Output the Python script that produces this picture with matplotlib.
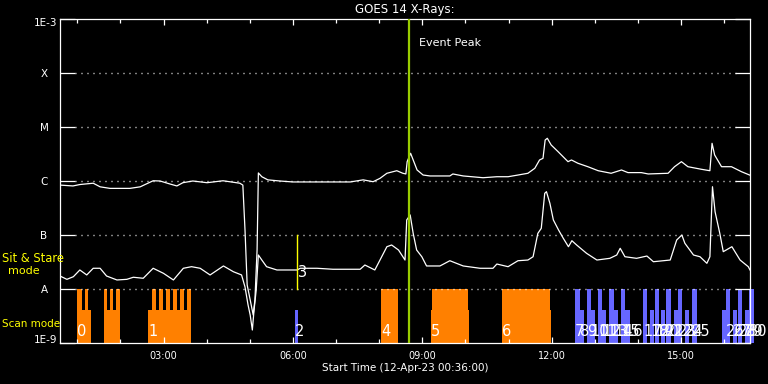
import numpy as np
import matplotlib
matplotlib.use("Agg")
import matplotlib.pyplot as plt
from matplotlib.ticker import NullLocator, FixedLocator

# GOES 14 X-ray flux, hours since 00:00 on 12-Apr-23
time_long = [0.60, 0.90, 1.06, 1.37, 1.53, 1.76, 2.22, 2.46, 2.76, 2.92, 3.15, 3.31, 3.45, 3.68, 4.01,
             4.38, 4.61, 4.77, 4.84, 4.89, 4.94, 5.01, 5.08, 5.12, 5.17, 5.20, 5.28, 5.42, 5.70, 6.00,
             7.33, 7.63, 7.86, 8.02, 8.18, 8.41, 8.55, 8.62, 8.65, 8.73, 8.79, 8.88, 9.02, 9.18, 9.64,
             9.71, 9.95, 10.41, 10.73, 10.99, 11.22, 11.45, 11.61, 11.72, 11.80, 11.85, 11.90, 11.99, 12.15, 12.38,
             12.46, 12.61, 12.84, 13.08, 13.38, 13.62, 13.77, 14.08, 14.24, 14.70, 14.85, 15.01, 15.16, 15.47, 15.67,
             15.72, 15.78, 15.94, 16.17, 16.40, 16.59]
flux_long = [8.4e-7, 8.1e-7, 8.6e-7, 9.1e-7, 7.8e-7, 7.3e-7, 7.3e-7, 7.8e-7, 1.01e-6, 1.0e-6, 8.8e-7, 8.1e-7, 9.3e-7, 1.0e-6, 9.3e-7,
             1.01e-6, 9.5e-7, 9.1e-7, 8.4e-7, 1.24e-7, 1.19e-8, 6.3e-9, 3.3e-9, 6.3e-9, 5.3e-8, 1.41e-6, 1.20e-6, 1.05e-6, 1.0e-6, 9.6e-7,
             9.6e-7, 1.05e-6, 9.7e-7, 1.12e-6, 1.39e-6, 1.55e-6, 1.39e-6, 1.35e-6, 2.28e-6, 3.26e-6, 2.45e-6, 1.60e-6, 1.29e-6, 1.24e-6, 1.24e-6,
             1.35e-6, 1.24e-6, 1.15e-6, 1.20e-6, 1.20e-6, 1.29e-6, 1.39e-6, 1.72e-6, 2.45e-6, 2.63e-6, 5.74e-6, 6.18e-6, 4.64e-6, 3.49e-6, 2.28e-6,
             2.45e-6, 2.13e-6, 1.84e-6, 1.55e-6, 1.39e-6, 1.60e-6, 1.43e-6, 1.43e-6, 1.35e-6, 1.39e-6, 1.84e-6, 2.28e-6, 1.84e-6, 1.65e-6, 1.55e-6,
             4.99e-6, 3.03e-6, 1.84e-6, 1.84e-6, 1.49e-6, 1.29e-6]

time_short = [0.60, 0.76, 0.91, 1.06, 1.22, 1.37, 1.53, 1.68, 1.92, 2.15, 2.30, 2.53, 2.76, 3.00, 3.23,
              3.46, 3.65, 3.85, 4.08, 4.39, 4.62, 4.81, 4.89, 4.96, 5.01, 5.06, 5.10, 5.15, 5.20, 5.28,
              5.39, 5.63, 6.10, 6.17, 6.56, 6.93, 7.56, 7.67, 7.90, 8.02, 8.18, 8.29, 8.45, 8.60, 8.64,
              8.72, 8.79, 8.87, 8.99, 9.10, 9.41, 9.64, 9.95, 10.34, 10.64, 10.73, 10.99, 11.22, 11.45, 11.57,
              11.68, 11.76, 11.84, 11.88, 11.96, 12.04, 12.16, 12.27, 12.39, 12.47, 12.58, 12.81, 13.05, 13.35, 13.51,
              13.59, 13.70, 13.97, 14.21, 14.36, 14.75, 14.90, 15.02, 15.09, 15.29, 15.44, 15.60, 15.67, 15.73, 15.79,
              15.90, 15.98, 16.18, 16.37, 16.56, 16.60]
flux_short = [1.74e-8, 1.51e-8, 1.69e-8, 2.25e-8, 1.82e-8, 2.42e-8, 2.42e-8, 1.74e-8, 1.47e-8, 1.51e-8, 1.65e-8, 1.58e-8, 2.42e-8, 1.95e-8, 1.47e-8,
              2.42e-8, 2.59e-8, 2.42e-8, 1.82e-8, 2.67e-8, 2.09e-8, 1.82e-8, 1.09e-8, 5.1e-9, 3.3e-9, 1.74e-9, 4.1e-9, 9.6e-9, 4.26e-8, 3.44e-8,
              2.59e-8, 2.25e-8, 2.25e-8, 2.42e-8, 2.42e-8, 2.32e-8, 2.32e-8, 2.78e-8, 2.25e-8, 3.44e-8, 6.07e-8, 6.53e-8, 5.27e-8, 3.44e-8, 1.90e-7,
              2.35e-7, 1.07e-7, 5.27e-8, 3.96e-8, 2.67e-8, 2.67e-8, 3.34e-8, 2.67e-8, 2.42e-8, 2.42e-8, 2.90e-8, 2.59e-8, 3.34e-8, 3.44e-8, 3.96e-8,
              1.07e-7, 1.33e-7, 5.92e-7, 6.34e-7, 3.86e-7, 1.90e-7, 1.24e-7, 8.7e-8, 6.07e-8, 7.84e-8, 6.53e-8, 4.58e-8, 3.44e-8, 3.70e-8, 4.26e-8,
              5.67e-8, 3.96e-8, 3.70e-8, 4.08e-8, 3.20e-8, 3.44e-8, 8.08e-8, 1.0e-7, 7.02e-8, 4.26e-8, 3.96e-8, 2.99e-8, 3.96e-8, 7.84e-7, 2.70e-7,
              1.07e-7, 4.91e-8, 6.07e-8, 3.44e-8, 2.59e-8, 2.25e-8]

# observation intervals (start, end) in hours
sitstare_tall = [(0.99, 1.11), (1.17, 1.26), (1.62, 1.69), (1.75, 1.84), (1.90, 1.99),
                 (2.73, 2.83), (2.90, 2.99), (3.06, 3.15), (3.22, 3.31), (3.38, 3.48), (3.55, 3.64),
                 (8.04, 8.44), (9.23, 10.06), (10.85, 11.96)]
sitstare_short = [(0.99, 1.32), (1.62, 1.99), (2.64, 3.64), (9.20, 10.08), (10.85, 11.99)]
scan_tall = [(12.54, 12.66), (12.82, 12.91), (13.08, 13.17), (13.33, 13.45), (13.61, 13.70),
             (14.12, 14.21), (14.40, 14.49), (14.65, 14.77), (14.93, 15.02), (15.26, 15.37),
             (16.04, 16.14), (16.32, 16.41), (16.58, 16.69)]
scan_short = [(6.05, 6.11), (12.66, 12.75), (12.91, 13.01), (13.17, 13.26), (13.45, 13.54), (13.70, 13.82),
              (14.28, 14.37), (14.54, 14.63), (14.84, 14.93), (15.09, 15.19), (15.94, 16.04),
              (16.21, 16.30), (16.48, 16.58)]
obs_times = [0.99, 2.64, 6.05, 6.10, 8.04, 9.20, 10.85,
             12.54, 12.66, 12.82, 12.91, 13.08, 13.17, 13.33, 13.45, 13.61, 13.70,
             14.12, 14.28, 14.40, 14.54, 14.65, 14.84, 14.93, 15.09, 15.26,
             16.04, 16.21, 16.32, 16.48, 16.58]
marker3_flux = 2.0e-8

event_peak = 8.69
t_start, t_end = 0.6, 16.6
hour_ticks = [3, 6, 9, 12, 15]
hour_labels = ["03:00", "06:00", "09:00", "12:00", "15:00"]
flux_levels = [1e-9, 1e-8, 1e-7, 1e-6, 1e-5, 1e-4, 1e-3]
level_names = ["1E-9", "A", "B", "C", "M", "X", "1E-3"]

W, H = 768, 384
fig = plt.figure(figsize=(W / 100, H / 100), dpi=100, facecolor="black")
ax = fig.add_axes([60 / W, (H - 343) / H, 690 / W, 324 / H], facecolor="black")
ax.set_yscale("log")
ax.set_xlim(t_start, t_end)
ax.set_ylim(1e-9, 1e-3)

orange = "#ff8000"
blue = "#6666ff"
tall_top, short_top = 1e-8, 4.1e-9
for s, e in sitstare_short:
    ax.bar(s, short_top - 1e-9, width=e - s, bottom=1e-9, align="edge", color=orange, lw=0, zorder=1)
for s, e in sitstare_tall:
    ax.bar(s, tall_top - 1e-9, width=e - s, bottom=1e-9, align="edge", color=orange, lw=0, zorder=1)
for s, e in scan_short:
    ax.bar(s, short_top - 1e-9, width=e - s, bottom=1e-9, align="edge", color=blue, lw=0, zorder=1, clip_on=False)
for s, e in scan_tall:
    ax.bar(s, tall_top - 1e-9, width=e - s, bottom=1e-9, align="edge", color=blue, lw=0, zorder=1, clip_on=False)

# dotted class lines
for lev in flux_levels[1:-1]:
    ax.axhline(lev, xmin=15 / 690, xmax=676 / 690, color="white", lw=1.0,
               linestyle=(0, (0.72, 3.6)), zorder=1.5)

ax.plot(time_long, flux_long, color="white", lw=0.9, zorder=3)
ax.plot(time_short, flux_short, color="white", lw=0.9, zorder=3)

ax.plot([obs_times[3], obs_times[3]], [1e-8, 1e-7], color="yellow", lw=1.0, zorder=3)
ax.axvline(event_peak, color="#99cc00", lw=1.6, zorder=4)
ax.text(event_peak + 0.23, 0.927, "Event Peak", color="white", fontsize=8,
        va="center", ha="left", transform=ax.get_xaxis_transform())

xt = ax.get_xaxis_transform()
for i, t in enumerate(obs_times):
    if i == 3:
        ax.text(t + 0.02, marker3_flux, str(i), color="white", fontsize=10.5, va="center", ha="left", zorder=5)
    else:
        ax.text(t, 0.012, str(i), color="white", fontsize=10.5, va="bottom", ha="left",
                transform=xt, zorder=5)

# axes styling
for sp in ax.spines.values():
    sp.set_color("white")
    sp.set_linewidth(0.9)
ax.set_axisbelow(False)
ax.xaxis.set_major_locator(FixedLocator(hour_ticks))
ax.xaxis.set_minor_locator(FixedLocator(np.arange(1, 17)))
ax.set_xticklabels(hour_labels)
ax.tick_params(axis="x", which="both", direction="in", top=True, bottom=True, colors="white",
               labelsize=7, pad=5.5, width=0.9)
ax.tick_params(axis="x", which="major", length=4.5)
ax.tick_params(axis="x", which="minor", length=2.9)
ax.yaxis.set_major_locator(FixedLocator(flux_levels))
ax.yaxis.set_minor_locator(NullLocator())
ax.tick_params(axis="y", which="major", direction="in", left=True, right=True, length=10.5,
               width=0.9, colors="white", labelleft=False)

def px(x, y):
    return x / W, 1 - y / H

label_y = [340, 290, 236, 182, 128, 74, 23.3]
for name, y in zip(level_names, label_y):
    if name.startswith("1E"):
        fig.text(*px(57, y), name, color="white", fontsize=7.5, ha="right", va="center")
    else:
        fig.text(*px(44, y), name, color="white", fontsize=7.5, ha="center", va="center")

fig.text(*px(405, 9.5), "GOES 14 X-Rays:", color="white", fontsize=8.5, ha="center", va="center")
fig.text(*px(405, 368), "Start Time (12-Apr-23 00:36:00)", color="white", fontsize=7.5, ha="center", va="center")
fig.text(*px(2, 259), "Sit & Stare", color="yellow", fontsize=8.3, ha="left", va="center")
fig.text(*px(24, 271), "mode", color="yellow", fontsize=8, ha="center", va="center")
fig.text(*px(2, 324), "Scan mode", color="yellow", fontsize=7.5, ha="left", va="center")

fig.savefig("out.png", dpi=100, facecolor="black")
